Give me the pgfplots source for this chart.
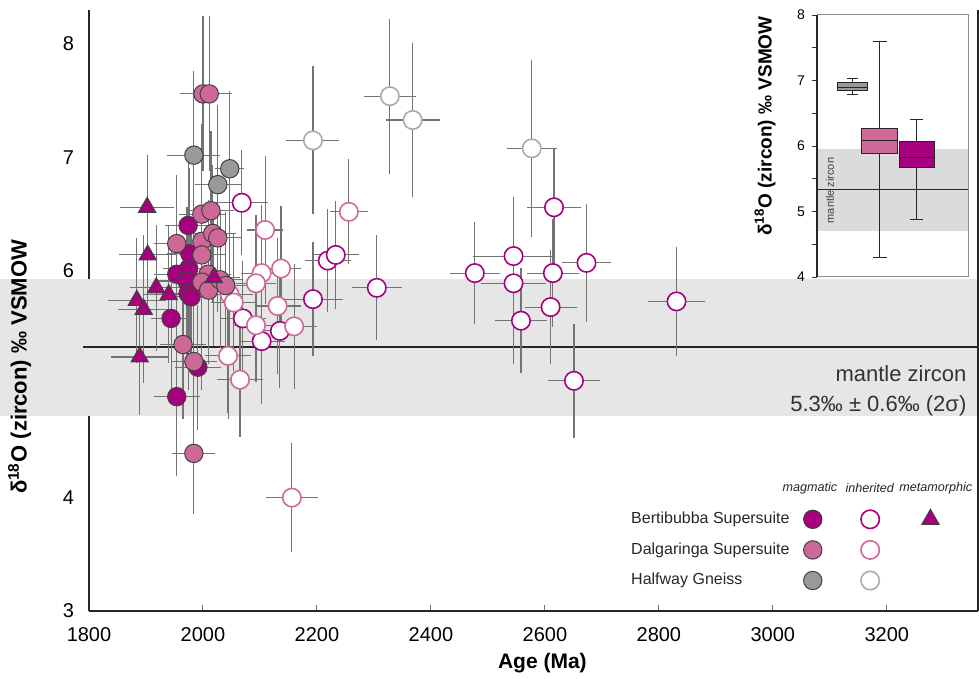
\documentclass[border=0pt]{standalone}
\usepackage{fontspec}
\setmainfont{Liberation Sans}
\usepackage{pgfplots}
\usepackage{pgfplotstable}
\pgfplotsset{compat=1.18}
\usepgfplotslibrary{statistics}
\definecolor{bmag}{RGB}{166,0,126}
\definecolor{dpink}{RGB}{207,104,152}
\definecolor{hgrey}{RGB}{153,153,153}
\definecolor{hgreyo}{RGB}{170,170,170}
\definecolor{bandgrey}{RGB}{230,230,230}
\definecolor{ebar}{RGB}{115,115,115}

% Halfway Gneiss, magmatic
\pgfplotstableread{
x y ex ey
1984 7.02 36 0.69
2026 6.76 30 0.65
2047 6.90 15 0.63
}\hwMag
% Halfway Gneiss, inherited
\pgfplotstableread{
x y ex ey
2193 7.15 36 0.60
2328 7.54 35 0.63
2368 7.33 37 0.63
2577 7.08 33 0.73
}\hwInh
% Bertibubba, inherited
\pgfplotstableread{
x y ex ey
2068 6.60 35 0.41
2070 5.58 30 0.45
2135 5.47 30 0.45
2103 5.38 30 0.50
2193 5.75 42 0.45
2219 6.09 30 0.40
2233 6.14 30 0.42
2305 5.85 33 0.41
2477 5.98 33 0.40
2545 6.13 61 0.47
2545 5.89 47 0.66
2614 5.98 35 0.42
2616 6.56 37 0.47
2673 6.07 33 0.47
2558 5.56 35 0.41
2610 5.68 35 0.45
2651 5.03 35 0.45
2831 5.73 40 0.43
}\bInh
% Dalgaringa, inherited
\pgfplotstableread{
x y ex ey
2256 6.52 23 0.41
2109 6.36 21 0.60
2103 5.98 25 0.55
2137 6.02 25 0.50
2093 5.89 25 0.55
2047 5.79 30 0.50
2054 5.72 30 0.55
2131 5.69 30 0.55
2093 5.52 30 0.45
2160 5.51 30 0.50
2044 5.25 30 0.50
2065 5.04 30 0.45
2156 4.00 35 0.43
}\dInh
% Bertibubba, magmatic
\pgfplotstableread{
x y ex ey
1974 6.40 30 0.55
1954 5.97 30 0.60
1975 6.02 35 0.90
1977 6.15 30 0.70
1972 5.91 40 0.60
1974 5.80 35 0.80
1979 5.77 30 0.60
1944 5.58 25 0.60
1991 5.15 30 0.50
1954 4.89 30 0.65
}\bMag
% Dalgaringa, magmatic
\pgfplotstableread{
x y ex ey
2000 7.56 30 0.63
2011 7.56 30 0.63
1998 6.50 30 0.70
2014 6.53 30 0.65
1954 6.24 30 0.55
1998 6.26 30 0.60
2017 6.33 30 0.55
2026 6.29 30 0.60
1998 6.14 30 1.10
2009 5.97 30 0.60
1998 5.90 35 0.90
2010 5.83 30 0.60
2030 5.92 30 0.55
2040 5.87 30 0.60
1965 5.35 30 0.60
1984 5.20 30 0.60
1984 4.39 27 0.48
}\dMag
% Bertibubba, metamorphic
\pgfplotstableread{
x y ex ey
1902 6.56 37 0.41
1903 6.14 40 0.45
1918 5.85 35 0.50
1940 5.79 35 0.55
1884 5.74 40 0.50
1896 5.66 35 0.60
2019 5.94 35 0.55
1889 5.24 40 0.46
}\bMet

\pgfplotsset{
  ebars/.style={only marks, mark=none, forget plot,
    error bars/.cd, x dir=both, x explicit, y dir=both, y explicit,
    error bar style={ebar, line width=0.55pt},
    error mark options={ebar, mark size=3pt, line width=0.55pt}},
}

\begin{document}
\begin{tikzpicture}
\useasboundingbox (-44.5pt,-34pt) rectangle (445pt,305.5pt);
\begin{axis}[
  at={(0pt,0pt)}, anchor=south west,
  scale only axis, width=444.5pt, height=300.5pt,
  xmin=1800, xmax=3360, ymin=3, ymax=8.3,
  axis x line*=bottom, axis y line*=left,
  axis line style={black!85, line width=0.8pt},
  xtick={1800,2000,...,3200}, ytick={3,...,8},
  tick align=inside, major tick length=3pt,
  x tick style={black!55, line width=0.5pt},
  y tick style={draw=none},
  ticklabel style={font=\fontsize{10}{12}\selectfont},
  /pgf/number format/assume math mode=true,
  /pgf/number format/1000 sep={},
  xticklabel style={yshift=-4.5pt},
  yticklabel style={xshift=-4pt},
  xlabel={Age (Ma)},
  ylabel={δ\textsuperscript{18}O (zircon) ‰ VSMOW},
  xlabel style={at={(axis description cs:0.51,-0.0865)}, anchor=center, font=\bfseries\fontsize{10.5}{12}\selectfont},
  ylabel style={at={(axis description cs:-0.078,0.406)}, anchor=center, font=\bfseries\fontsize{11}{12}\selectfont},
  clip=false,
  legend columns=4,
  legend style={draw=none, fill=none, inner sep=0pt, at={(0.605,0.172)}, anchor=north west,
    font=\fontsize{8}{9}\selectfont, text=black!85, column sep=0pt, row sep=4pt,
    /tikz/column 2/.style={column sep=5pt},
    /tikz/column 4/.style={column sep=15.5pt},
    /tikz/column 6/.style={column sep=13pt}},
  legend cell align=left,
]
\fill[bandgrey] (axis cs:1640,4.72) rectangle (axis cs:3360,5.93);
\draw[black!85, line width=0.8pt] (axis cs:1790,5.33) -- (axis cs:3360,5.33);
\draw[black!85, line width=0.8pt] (rel axis cs:1,0) -- (rel axis cs:1,1);
\node[anchor=east, align=right, font=\fontsize{11}{15}\selectfont, text=black!80] at (axis cs:3352,4.94) {mantle zircon\\5.3‰ ± 0.6‰ (2σ)};
% column headings of the legend
\node[font=\fontsize{6.3}{7}\selectfont\itshape, text=black!85] at (axis cs:3065,4.085) {magmatic};
\node[font=\fontsize{6.3}{7}\selectfont\itshape, text=black!85] at (axis cs:3170,4.085) {inherited};
\node[font=\fontsize{6.3}{7}\selectfont\itshape, text=black!85] at (axis cs:3286,4.085) {metamorphic};

% error bars first
\addplot[ebars] table[x=x,y=y,x error=ex,y error=ey] {\hwInh};
\addplot[ebars] table[x=x,y=y,x error=ex,y error=ey] {\bInh};
\addplot[ebars] table[x=x,y=y,x error=ex,y error=ey] {\dInh};
\addplot[ebars] table[x=x,y=y,x error=ex,y error=ey] {\hwMag};
\addplot[ebars] table[x=x,y=y,x error=ex,y error=ey] {\bMag};
\addplot[ebars] table[x=x,y=y,x error=ex,y error=ey] {\dMag};
\addplot[ebars] table[x=x,y=y,x error=ex,y error=ey] {\bMet};

% markers
\addplot[only marks, forget plot, mark=*, mark size=4.6pt, mark options={fill=white, draw=hgreyo, line width=0.8pt}] table[x=x,y=y] {\hwInh};
\addplot[only marks, forget plot, mark=*, mark size=4.6pt, mark options={fill=white, draw=bmag, line width=0.8pt}] table[x=x,y=y] {\bInh};
\addplot[only marks, forget plot, mark=*, mark size=4.6pt, mark options={fill=white, draw=dpink, line width=0.8pt}] table[x=x,y=y] {\dInh};
\addplot[only marks, forget plot, mark=*, mark size=4.6pt, mark options={fill=hgrey, draw=black!75, line width=0.5pt}] table[x=x,y=y] {\hwMag};
\addplot[only marks, forget plot, mark=*, mark size=4.6pt, mark options={fill=bmag, draw=black!75, line width=0.5pt}] table[x=x,y=y] {\bMag};
\addplot[only marks, forget plot, mark=*, mark size=4.6pt, mark options={fill=dpink, draw=black!75, line width=0.5pt}] table[x=x,y=y] {\dMag};
\addplot[only marks, forget plot, mark=triangle*, mark size=5pt, mark options={fill=bmag, draw=black!75, line width=0.5pt}] table[x=x,y=y] {\bMet};

% legend
\addlegendimage{empty legend}\addlegendentry{Bertibubba Supersuite}
\addlegendimage{only marks, mark=*, mark size=4.6pt, mark options={fill=bmag, draw=black!75, line width=0.5pt}}\addlegendentry{}
\addlegendimage{only marks, mark=*, mark size=4.6pt, mark options={fill=white, draw=bmag, line width=0.8pt}}\addlegendentry{}
\addlegendimage{only marks, mark=triangle*, mark size=5pt, mark options={fill=bmag, draw=black!75, line width=0.5pt}}\addlegendentry{}
\addlegendimage{empty legend}\addlegendentry{Dalgaringa Supersuite}
\addlegendimage{only marks, mark=*, mark size=4.6pt, mark options={fill=dpink, draw=black!75, line width=0.5pt}}\addlegendentry{}
\addlegendimage{only marks, mark=*, mark size=4.6pt, mark options={fill=white, draw=dpink, line width=0.8pt}}\addlegendentry{}
\addlegendimage{empty legend}\addlegendentry{}
\addlegendimage{empty legend}\addlegendentry{Halfway Gneiss}
\addlegendimage{only marks, mark=*, mark size=4.6pt, mark options={fill=hgrey, draw=black!75, line width=0.5pt}}\addlegendentry{}
\addlegendimage{only marks, mark=*, mark size=4.6pt, mark options={fill=white, draw=hgreyo, line width=0.8pt}}\addlegendentry{}
\addlegendimage{empty legend}\addlegendentry{}
\end{axis}

\begin{axis}[
  at={(364pt,167pt)}, anchor=south west,
  scale only axis, width=75.5pt, height=131pt,
  xmin=0, xmax=4.3, ymin=4, ymax=8,
  xtick=\empty, ytick={4,...,8}, minor ytick={4.5,5.5,6.5,7.5},
  ytick pos=left, tick align=outside, major tick length=2.5pt, minor tick length=2.5pt,
  tick style={black!80, line width=0.4pt},
  axis line style={black!45, line width=0.5pt},
  axis background/.style={fill=white},
  ticklabel style={font=\fontsize{7}{8}\selectfont},
  /pgf/number format/assume math mode=true,
  ylabel={δ\textsuperscript{18}O (zircon) ‰ VSMOW},
  ylabel style={at={(axis description cs:-0.344,0.576)}, anchor=center, font=\bfseries\fontsize{9.5}{11}\selectfont},
  clip=false,
  boxplot/draw direction=y,
]
\fill[black!14] (axis cs:0,4.7) rectangle (axis cs:4.3,5.95);
\draw[black!85, line width=0.6pt] (axis cs:0,5.33) -- (axis cs:4.3,5.33);
\node[rotate=90, font=\fontsize{5.5}{6}\selectfont, text=black!75] at (axis cs:0.37,5.32) {mantle zircon};
\addplot[boxplot prepared={lower whisker=6.78, lower quartile=6.84, median=6.90, upper quartile=6.97, upper whisker=7.03, draw position=1.01, box extend=0.88, whisker extend=0.29}, draw=black!85, fill=hgrey, line width=0.5pt] coordinates {};
\addplot[boxplot prepared={lower whisker=4.30, lower quartile=5.88, median=6.08, upper quartile=6.27, upper whisker=7.60, draw position=1.79, box extend=1.03, whisker extend=0.40}, draw=black!85, fill=dpink, line width=0.5pt] coordinates {};
\addplot[boxplot prepared={lower whisker=4.88, lower quartile=5.67, median=5.83, upper quartile=6.07, upper whisker=6.40, draw position=2.84, box extend=1.00, whisker extend=0.37}, draw=black!85, fill=bmag, line width=0.5pt] coordinates {};
\draw[black!85, line width=0.6pt] (rel axis cs:0,0) -- (rel axis cs:0,1);
\end{axis}
\end{tikzpicture}
\end{document}
